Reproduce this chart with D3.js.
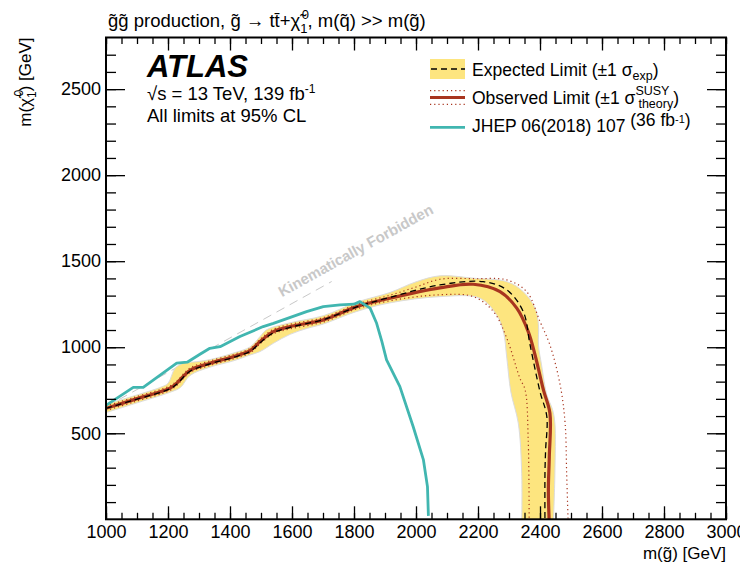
<!DOCTYPE html>
<html>
<head>
<meta charset="utf-8">
<script src="https://cdn.jsdelivr.net/npm/d3@7"></script>
<style>
  body { margin: 0; background: #fff; }
  text { font-family: "Liberation Sans", Arial, Helvetica, sans-serif; }
</style>
</head>
<body>
<svg id="chart" width="740" height="564"></svg>
<script>
// limits as [m(gluino), m(neutralino)] in GeV
const expLimit = [[1000,645],[1088,692],[1206,758],[1228,785],[1271,860],[1335,903],[1411,941],[1465,976],[1497,1026],[1540,1084],[1594,1116],[1701,1160],[1809,1234],[1916,1290],[2077,1362],[2217,1381],[2293,1333],[2346,1207],[2368,1013],[2400,742],[2422,597],[2418,400],[2416,267],[2416,-30]];
const expUp = [[1000,668],[1088,716],[1180,770],[1200,790],[1223,878],[1249,907],[1293,916],[1335,928],[1411,966],[1465,1002],[1497,1062],[1518,1101],[1594,1142],[1701,1183],[1809,1262],[1916,1318],[2000,1380],[2077,1415],[2185,1401],[2293,1381],[2346,1323],[2384,1227],[2395,1130],[2395,1013],[2405,897],[2422,723],[2440,640],[2448,558],[2448,267],[2443,-30]];
const expDown = [[1000,620],[1088,670],[1206,738],[1240,766],[1271,836],[1335,884],[1411,921],[1465,955],[1497,975],[1540,1023],[1594,1075],[1650,1110],[1701,1135],[1809,1208],[1916,1258],[2077,1294],[2206,1285],[2260,1188],[2282,1091],[2293,936],[2306,740],[2330,558],[2341,267],[2341,-30]];
const obsLimit = [[1000,645],[1088,694],[1206,762],[1228,791],[1271,866],[1335,907],[1411,945],[1465,980],[1497,1033],[1540,1091],[1594,1120],[1701,1159],[1809,1236],[1916,1285],[2077,1345],[2185,1366],[2271,1323],[2325,1227],[2362,1091],[2384,955],[2411,752],[2432,616],[2430,364],[2427,170],[2430,-30]];
const obsUp = [[1000,658],[1088,707],[1206,775],[1228,804],[1271,879],[1335,920],[1411,958],[1465,993],[1497,1046],[1540,1104],[1594,1133],[1701,1172],[1809,1249],[1916,1302],[2000,1350],[2077,1395],[2190,1398],[2293,1391],[2357,1323],[2400,1149],[2432,1013],[2465,781],[2481,558],[2486,267],[2491,-30]];
const obsDown = [[1000,632],[1088,681],[1206,749],[1228,778],[1271,853],[1335,894],[1411,932],[1465,967],[1497,1020],[1540,1078],[1594,1107],[1701,1146],[1809,1223],[1916,1270],[2077,1305],[2185,1294],[2250,1207],[2293,1052],[2335,820],[2352,752],[2362,461],[2365,-30]];
const jhep2018 = [[1000,662],[1088,767],[1120,767],[1228,907],[1262,913],[1303,959],[1335,994],[1368,1003],[1432,1062],[1507,1120],[1540,1139],[1647,1207],[1701,1236],[1755,1246],[1800,1250],[1819,1265],[1852,1227],[1873,1139],[1890,1033],[1905,926],[1948,771],[1991,538],[2024,345],[2037,190],[2040,20]];
// kinematic edge m(chi) = m(g) - 2 m(top)
const kinLine = [[1000,654],[1728,1382]];

const xMajor = d3.range(1000, 3001, 200);
const xMinor = d3.range(1000, 3001, 50);
const yMajor = [500, 1000, 1500, 2000, 2500];
const yMinor = d3.range(100, 2800, 100);

const svg = d3.select("#chart");
const pL = 106, pR = 726, pT = 37.5, pB = 519.3;

const x = d3.scaleLinear().domain([1000, 3000]).range([pL, pR]);
const y = d3.scaleLinear().domain([0, 2800]).range([pB, pT]);

svg.append("defs").append("clipPath").attr("id", "plot")
  .append("rect").attr("x", pL).attr("y", pT)
  .attr("width", pR - pL).attr("height", pB - pT);

const g = svg.append("g").attr("clip-path", "url(#plot)");

const smooth = d3.line().x(d => x(d[0])).y(d => y(d[1])).curve(d3.curveCatmullRom);
const straight = d3.line().x(d => x(d[0])).y(d => y(d[1]));

// kinematic line
g.append("path").attr("d", straight(kinLine))
  .attr("fill", "none").attr("stroke", "#c8c8c8").attr("stroke-width", 1)
  .attr("stroke-dasharray", "9,6");

// expected band
g.append("path")
  .attr("d", smooth(expUp) + "L" + smooth(expDown.slice().reverse()).slice(1) + "Z")
  .attr("fill", "#fde57f").attr("stroke", "#dcdcdc").attr("stroke-width", 1);

[obsUp, obsDown].forEach(c => {
  g.append("path").attr("d", smooth(c))
    .attr("fill", "none").attr("stroke", "#a8351f").attr("stroke-width", 1.2)
    .attr("stroke-dasharray", "1.2,3");
});

g.append("path").attr("d", smooth(obsLimit))
  .attr("fill", "none").attr("stroke", "#a8351f").attr("stroke-width", 3.2);

g.append("path").attr("d", smooth(expLimit))
  .attr("fill", "none").attr("stroke", "#000").attr("stroke-width", 1.3)
  .attr("stroke-dasharray", "6,4");

g.append("path").attr("d", straight(jhep2018))
  .attr("fill", "none").attr("stroke", "#41b6b0").attr("stroke-width", 2.8)
  .attr("stroke-linejoin", "round");

// Kinematically Forbidden label
const ang = Math.atan2(y(1000) - y(0), x(2000) - x(1000)) * 180 / Math.PI;
const kx = x(1568), ky = y(1290);
svg.append("text").attr("transform", `translate(${kx},${ky}) rotate(${ang})`)
  .attr("font-size", 15).attr("font-weight", "bold").attr("fill", "#c8c8c8")
  .text("Kinematically Forbidden");

// axes
function styleAxis(sel) {
  sel.select(".domain").remove();
  sel.selectAll("line").attr("stroke", "#000").attr("stroke-width", 1.3);
  sel.selectAll("text").attr("font-size", 18).attr("fill", "#000")
    .style("font-family", '"Liberation Sans", Arial, sans-serif');
}
svg.append("g").attr("transform", `translate(0,${pB})`)
  .call(d3.axisBottom(x).tickValues(xMajor).tickSizeInner(-13).tickSizeOuter(0).tickPadding(6).tickFormat(d3.format("d")))
  .call(styleAxis);
svg.append("g").attr("transform", `translate(0,${pB})`)
  .call(d3.axisBottom(x).tickValues(xMinor).tickSizeInner(-6.5).tickSizeOuter(0).tickFormat(""))
  .call(styleAxis);
svg.append("g").attr("transform", `translate(0,${pT})`)
  .call(d3.axisTop(x).tickValues(xMajor).tickSizeInner(-13).tickSizeOuter(0).tickFormat(""))
  .call(styleAxis);
svg.append("g").attr("transform", `translate(0,${pT})`)
  .call(d3.axisTop(x).tickValues(xMinor).tickSizeInner(-6.5).tickSizeOuter(0).tickFormat(""))
  .call(styleAxis);
svg.append("g").attr("transform", `translate(${pL},0)`)
  .call(d3.axisLeft(y).tickValues(yMajor).tickSizeInner(-19).tickSizeOuter(0).tickPadding(5).tickFormat(d3.format("d")))
  .call(styleAxis);
svg.append("g").attr("transform", `translate(${pL},0)`)
  .call(d3.axisLeft(y).tickValues(yMinor).tickSizeInner(-10).tickSizeOuter(0).tickFormat(""))
  .call(styleAxis);
svg.append("g").attr("transform", `translate(${pR},0)`)
  .call(d3.axisRight(y).tickValues(yMajor).tickSizeInner(-19).tickSizeOuter(0).tickFormat(""))
  .call(styleAxis);
svg.append("g").attr("transform", `translate(${pR},0)`)
  .call(d3.axisRight(y).tickValues(yMinor).tickSizeInner(-10).tickSizeOuter(0).tickFormat(""))
  .call(styleAxis);

svg.append("rect").attr("x", pL).attr("y", pT)
  .attr("width", pR - pL).attr("height", pB - pT)
  .attr("fill", "none").attr("stroke", "#000").attr("stroke-width", 2);

// axis titles
svg.append("text").attr("x", pR).attr("y", 559).attr("text-anchor", "end")
  .attr("font-size", 17).text("m(g\u0303) [GeV]");

const yt = svg.append("text").attr("transform", `translate(31,${pT}) rotate(-90)`)
  .attr("text-anchor", "end").attr("font-size", 17);
yt.append("tspan").text("m(\u03c7\u0303");
yt.append("tspan").attr("font-size", 12).attr("dx", 1.5).attr("dy", -8).text("0");
yt.append("tspan").attr("font-size", 12).attr("dx", -8.2).attr("dy", 13).text("1");
yt.append("tspan").attr("dy", -5).text(") [GeV]");

// title
const tt = svg.append("text").attr("x", 108).attr("y", 27).attr("font-size", 18.5);
tt.append("tspan").text("g\u0303g\u0303  production, g\u0303 \u2192 tt\u0304+\u03c7\u0303");
tt.append("tspan").attr("font-size", 13).attr("dx", 1.5).attr("dy", -8).text("0");
tt.append("tspan").attr("font-size", 13).attr("dx", -8.7).attr("dy", 14).text("1");
tt.append("tspan").attr("dy", -6).text(", m(q\u0303) >> m(g\u0303)");

// ATLAS label
svg.append("text").attr("x", 147).attr("y", 77).attr("font-size", 31)
  .attr("font-weight", "bold").attr("font-style", "italic").text("ATLAS");
const lum = svg.append("text").attr("x", 147).attr("y", 100).attr("font-size", 18.5);
lum.append("tspan").text("\u221as = 13 TeV, 139 fb");
lum.append("tspan").attr("font-size", 12).attr("dy", -7).text("-1");
svg.append("text").attr("x", 147).attr("y", 122).attr("font-size", 18.5).text("All limits at 95% CL");

// legend
const lg = svg.append("g");
lg.append("rect").attr("x", 430).attr("y", 59).attr("width", 35).attr("height", 20).attr("fill", "#fde57f");
lg.append("line").attr("x1", 431).attr("x2", 465).attr("y1", 69).attr("y2", 69)
  .attr("stroke", "#000").attr("stroke-width", 1.3).attr("stroke-dasharray", "6,4");
[90.7, 104.3].forEach(v => lg.append("line").attr("x1", 430).attr("x2", 465).attr("y1", v).attr("y2", v)
  .attr("stroke", "#a8351f").attr("stroke-width", 1.2).attr("stroke-dasharray", "1.2,3"));
lg.append("line").attr("x1", 430).attr("x2", 465).attr("y1", 97.5).attr("y2", 97.5)
  .attr("stroke", "#a8351f").attr("stroke-width", 3.2);
lg.append("line").attr("x1", 430).attr("x2", 465).attr("y1", 127.3).attr("y2", 127.3)
  .attr("stroke", "#41b6b0").attr("stroke-width", 2.8);

const l1 = lg.append("text").attr("x", 472).attr("y", 75.5).attr("font-size", 17.5);
l1.append("tspan").text("Expected Limit (\u00b11 \u03c3");
l1.append("tspan").attr("font-size", 12.5).attr("dy", 4).text("exp");
l1.append("tspan").attr("dy", -4).text(")");

const l2 = lg.append("text").attr("x", 472).attr("y", 104).attr("font-size", 17.5);
l2.append("tspan").text("Observed Limit (\u00b11 \u03c3");
l2.append("tspan").attr("font-size", 12.5).attr("dy", -9).text("SUSY");
l2.append("tspan").attr("font-size", 12.5).attr("dx", -31).attr("dy", 13).text("theory");
l2.append("tspan").attr("dy", -4).text(")");

const l3 = lg.append("text").attr("x", 472).attr("y", 132).attr("font-size", 17.5);
l3.append("tspan").text("JHEP 06(2018) 107 ");
l3.append("tspan").attr("dy", -6).text("(36 fb");
l3.append("tspan").attr("font-size", 11).attr("dy", -3).text("-1");
l3.append("tspan").attr("dy", 3).text(")");
</script>
</body>
</html>
